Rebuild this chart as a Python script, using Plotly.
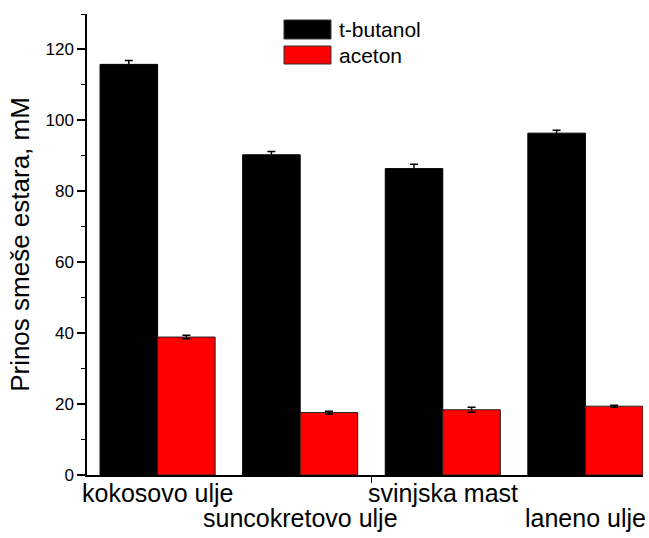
import plotly.graph_objects as go

categories = ["kokosovo ulje", "suncokretovo ulje", "svinjska mast", "laneno ulje"]
label_row = [0, 1, 0, 1]
t_butanol = [115.8, 90.3, 86.4, 96.4]
t_butanol_err = [1.1, 0.9, 1.2, 0.8]
aceton = [38.9, 17.6, 18.4, 19.4]
aceton_err = [0.5, 0.4, 0.7, 0.3]
series_names = ["t-butanol", "aceton"]
y_ticks = [0, 20, 40, 60, 80, 100, 120]

FONT = "Arial, Liberation Sans, sans-serif"
x_pos = list(range(len(categories)))

fig = go.Figure()
fig.add_trace(go.Bar(
    x=x_pos, y=t_butanol, name=series_names[0],
    marker=dict(color="#000000", line=dict(color="#000000", width=1)),
    error_y=dict(type="data", array=t_butanol_err, visible=True, color="#000000", thickness=1.5, width=4),
))
fig.add_trace(go.Bar(
    x=x_pos, y=aceton, name=series_names[1],
    marker=dict(color="#ff0000", line=dict(color="#222222", width=1)),
    error_y=dict(type="data", array=aceton_err, visible=True, color="#000000", thickness=1.5, width=4),
))

# custom legend (wide swatches like the original)
legend_colors = ["#000000", "#ff0000"]
legend_y = [(0.9458, 0.987), (0.8915, 0.9306)]
for name, col, (y0, y1) in zip(series_names, legend_colors, legend_y):
    fig.add_shape(type="rect", xref="paper", yref="paper", x0=0.3543, x1=0.4388, y0=y0, y1=y1,
                  fillcolor=col, line=dict(color="#333333", width=1))
    fig.add_annotation(xref="paper", yref="paper", x=0.4496, y=(y0 + y1) / 2, text=name,
                       showarrow=False, xanchor="left", yanchor="middle",
                       font=dict(family=FONT, size=21, color="#000000"))

# staggered category labels
for xi, cat, row in zip(x_pos, categories, label_row):
    fig.add_annotation(x=xi, y=0, xref="x", yref="y", text=cat, showarrow=False,
                       xanchor="center", yanchor="top", yshift=-3 - 25 * row,
                       borderpad=0,
                       font=dict(family=FONT, size=25, color="#000000"))

fig.update_layout(
    width=649, height=538,
    margin=dict(l=87, r=6, t=14, b=63, autoexpand=False),
    paper_bgcolor="white", plot_bgcolor="white",
    barmode="group", bargap=0.193, bargroupgap=0,
    showlegend=False,
    font=dict(family=FONT, color="#000000"),
    xaxis=dict(
        range=[-0.495, 3.404],
        tickvals=[1.5], showticklabels=False,
        ticks="outside", ticklen=6, tickwidth=1.2, tickcolor="#000000",
        showgrid=False, zeroline=False, automargin=False,
        showline=True, linecolor="#000000", linewidth=1.5,
    ),
    yaxis=dict(
        range=[0, 130],
        tickvals=y_ticks, automargin=False,
        ticks="outside", ticklen=8, tickwidth=1.5, tickcolor="#000000",
        showgrid=False, zeroline=False,
        showline=True, linecolor="#000000", linewidth=1.5,
        tickfont=dict(family=FONT, size=17, color="#000000"),
        minor=dict(dtick=10, tick0=0, ticks="outside", ticklen=4, tickwidth=1.2, tickcolor="#000000", showgrid=False),
        title=dict(text="Prinos smeše estara, mM", font=dict(family=FONT, size=26, color="#000000"), standoff=8),
    ),
)

fig.write_html("out.html", config={"displayModeBar": False},
               post_script="document.body.style.margin='0';document.body.style.overflow='hidden';")
